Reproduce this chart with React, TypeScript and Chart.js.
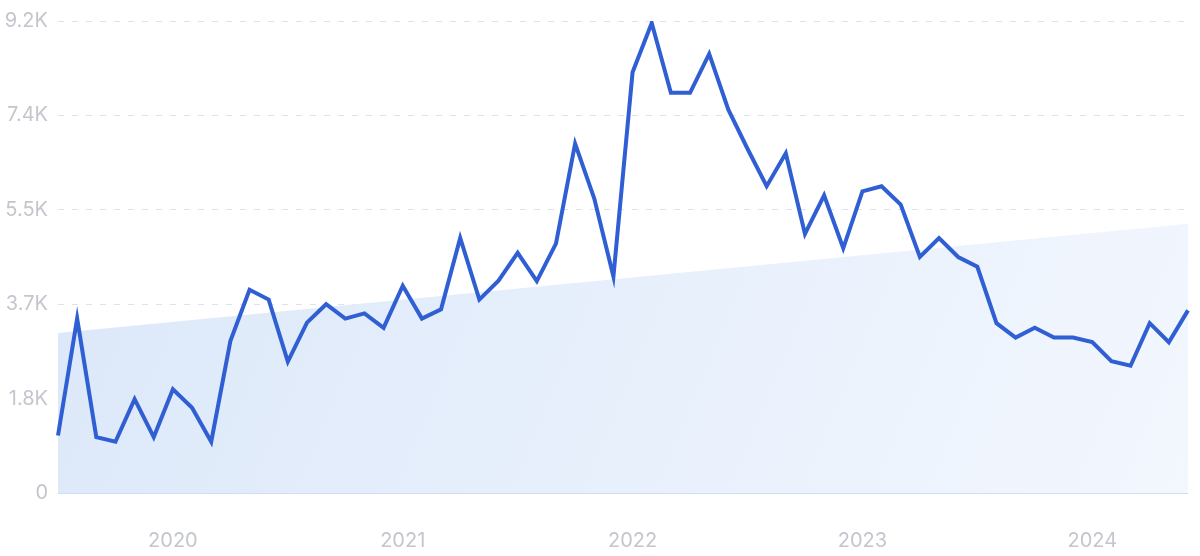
import React, { useEffect, useRef } from "react";
import { Chart, registerables } from "chart.js";

Chart.register(...registerables);

const months: string[] = [
  "2019-07", "2019-08", "2019-09", "2019-10", "2019-11", "2019-12",
  "2020-01", "2020-02", "2020-03", "2020-04", "2020-05", "2020-06",
  "2020-07", "2020-08", "2020-09", "2020-10", "2020-11", "2020-12",
  "2021-01", "2021-02", "2021-03", "2021-04", "2021-05", "2021-06",
  "2021-07", "2021-08", "2021-09", "2021-10", "2021-11", "2021-12",
  "2022-01", "2022-02", "2022-03", "2022-04", "2022-05", "2022-06",
  "2022-07", "2022-08", "2022-09", "2022-10", "2022-11", "2022-12",
  "2023-01", "2023-02", "2023-03", "2023-04", "2023-05", "2023-06",
  "2023-07", "2023-08", "2023-09", "2023-10", "2023-11", "2023-12",
  "2024-01", "2024-02", "2024-03", "2024-04", "2024-05", "2024-06",
];

const searchVolume: number[] = [
  1120, 3400, 1090, 1000, 1830, 1090, 2020, 1660, 1000, 2960, 3960, 3770,
  2560, 3320, 3680, 3400, 3500, 3220, 4040, 3400, 3580, 4970, 3770, 4140,
  4680, 4130, 4860, 6810, 5740, 4220, 8200, 9160, 7800, 7800, 8560, 7470,
  6710, 5980, 6620, 5050, 5800, 4770, 5880, 5980, 5620, 4600, 4970, 4600,
  4410, 3310, 3030, 3220, 3030, 3030, 2940, 2570, 2480, 3310, 2940, 3560,
];

// trend line end points (start, end); gaps in between are spanned
const trendStart = 3120;
const trendEnd = 5250;

const yTickValues: number[] = [0, 1840, 3680, 5520, 7360, 9200];
const yTickLabels: string[] = ["0", "1.8K", "3.7K", "5.5K", "7.4K", "9.2K"];
const xYearLabels: string[] = ["2020", "2021", "2022", "2023", "2024"];

export default function App() {
  const ref = useRef<HTMLCanvasElement | null>(null);

  useEffect(() => {
    if (!ref.current) return;
    document.body.style.margin = "0";
    document.body.style.overflow = "hidden";
    const trendData: (number | null)[] = months.map((_, i) =>
      i === 0 ? trendStart : i === months.length - 1 ? trendEnd : null
    );
    const chart = new Chart(ref.current, {
      type: "line",
      data: {
        labels: months,
        datasets: [
          {
            data: searchVolume,
            borderColor: "#2f5fd3",
            borderWidth: 4,
            pointRadius: 0,
            tension: 0,
            fill: false,
          },
          {
            data: trendData,
            spanGaps: true,
            borderWidth: 0,
            borderColor: "rgba(0,0,0,0)",
            pointRadius: 0,
            fill: "origin",
            backgroundColor: (ctx: any) => {
              const { chart } = ctx;
              const area = chart.chartArea;
              if (!area) return "#e4edfb";
              const g = chart.ctx.createLinearGradient(area.left, area.top, area.right, area.bottom);
              g.addColorStop(0, "#dae7f9");
              g.addColorStop(1, "#f3f7fe");
              return g;
            },
          },
        ],
      },
      options: {
        animation: false,
        responsive: false,
        maintainAspectRatio: false,
        devicePixelRatio: 1,
        layout: { padding: { left: 0, right: 12, top: 21, bottom: 0 } },
        plugins: { legend: { display: false }, tooltip: { enabled: false } },
        scales: {
          x: {
            offset: false,
            grid: { display: false, drawTicks: false },
            border: { display: false },
            afterFit: (s: any) => {
              s.height = 63;
              s.paddingLeft = 0;
              s.paddingRight = 0;
            },
            ticks: {
              autoSkip: false,
              maxRotation: 0,
              padding: 36,
              color: "#c3c6cd",
              font: { family: "Inter", size: 20 },
              callback: (_v: any, i: number) => {
                const m = months[i];
                if (m && m.endsWith("-01")) {
                  const y = m.slice(0, 4);
                  return xYearLabels.includes(y) ? y : "";
                }
                return "";
              },
            },
          },
          y: {
            min: 0,
            max: 9200,
            afterFit: (s: any) => {
              s.width = 58;
              s.paddingTop = 0;
              s.paddingBottom = 0;
            },
            afterBuildTicks: (s: any) => {
              s.ticks = yTickValues.map((v) => ({ value: v }));
            },
            grid: {
              drawTicks: false,
              color: (ctx: any) => (ctx.tick && ctx.tick.value === 0 ? "#d0ddf4" : "#d9e2f1"),
              lineWidth: (ctx: any) => (ctx.tick && ctx.tick.value === 0 ? 2 : 1),
            },
            border: {
              display: false,
              dash: (ctx: any) => (ctx.tick && ctx.tick.value === 0 ? [] : [6, 8]),
            },
            ticks: {
              padding: 10,
              color: "#c3c6cd",
              font: { family: "Inter", size: 20 },
              callback: (_v: any, i: number) => yTickLabels[i],
            },
          },
        },
      },
    });
    return () => chart.destroy();
  }, []);

  return (
    <div style={{ position: "absolute", left: 0, top: 0, width: 1200, height: 556, overflow: "hidden", background: "#ffffff" }}>
      <canvas ref={ref} width={1200} height={556} style={{ display: "block", width: 1200, height: 556 }} />
    </div>
  );
}
